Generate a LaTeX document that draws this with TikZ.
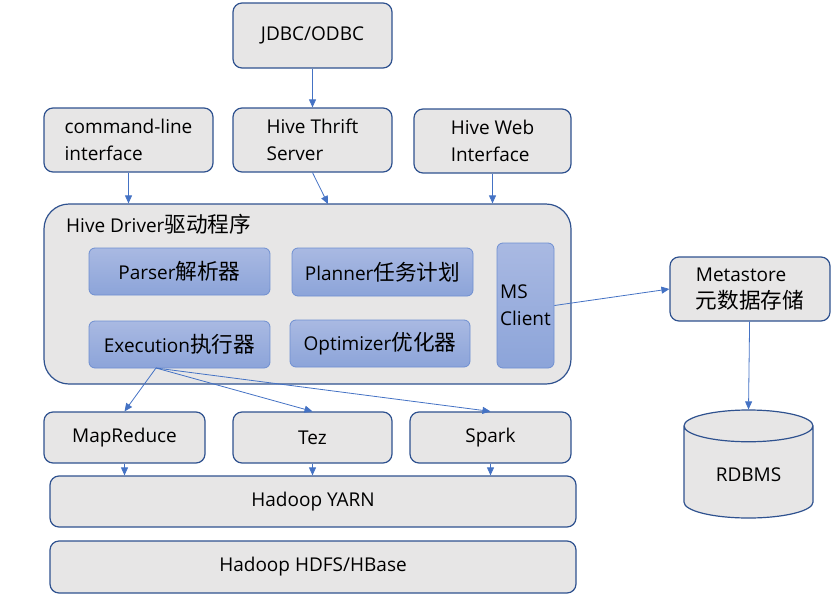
\documentclass[tikz,border=0pt]{standalone}
\usepackage{fontspec}
\usepackage{tikz}
\setmainfont{Open Sans}
\newfontfamily\cjk[Scale=1.14]{Noto Sans CJK SC}
\usetikzlibrary{arrows.meta}
\usetikzlibrary{shapes.geometric}
\definecolor{boxline}{HTML}{2F528F}
\definecolor{boxfill}{HTML}{E7E6E6}
\definecolor{innertop}{HTML}{A9B9E2}
\definecolor{innerbot}{HTML}{8CA4D9}
\definecolor{innerline}{HTML}{6F8FD1}
\definecolor{arrowblue}{HTML}{4472C4}
\tikzset{box/.style = {draw = boxline, fill = boxfill, line width = 1.2, rounded corners = 9, inner sep = 2, align = left, font = \fontsize{19}{27}\selectfont},
  inbox/.style = {draw = innerline, top color = innertop, bottom color = innerbot, line width = 0.8, rounded corners = 6, inner sep = 2, align = left, font = \fontsize{19}{27}\selectfont},
  arr/.style = {draw = arrowblue, line width = 0.8, -{Triangle[length = 8, width = 7]}}}

\begin{document}
\begin{tikzpicture}[x = 1pt, y = -1pt]
      \useasboundingbox (0, 0) rectangle (837, 597);

      \node [box, minimum width = 159, minimum height = 65] (jdbc) at (312.5, 35.5) {JDBC/ODBC};
      \node [box, minimum width = 169, minimum height = 64] (cli) at (128.5, 140) {command-line\\interface};
      \node [box, minimum width = 159, minimum height = 64] (thrift) at (312.5, 140) {Hive Thrift\\Server};
      \node [box, minimum width = 157, minimum height = 64] (web) at (492.5, 141) {Hive Web\\Interface};

      \node [box, rounded corners = 25, minimum width = 527, minimum height = 180] (drv) at (307.5, 294) {};
      \node [anchor = west, inner sep = 0, font = \fontsize{19}{27}\selectfont] (drvtitle) at (66, 224) {Hive Driver\cjk{驱动程序}};
      \node [inbox, minimum width = 181, minimum height = 47] (parser) at (179.5, 271.5) {Parser\cjk{解析器}};
      \node [inbox, minimum width = 181, minimum height = 48] (planner) at (382.5, 272) {Planner\cjk{任务计划}};
      \node [inbox, minimum width = 181, minimum height = 47] (exec) at (179.5, 344.5) {Execution\cjk{执行器}};
      \node [inbox, minimum width = 180, minimum height = 47] (opt) at (380, 343.5) {Optimizer\cjk{优化器}};
      \node [inbox, minimum width = 57, minimum height = 125] (ms) at (525.5, 305.5) {MS\\Client};

      \node [box, minimum width = 160, minimum height = 64] (meta) at (750, 289) {Metastore\\\cjk{元数据存储}};
      \node [cylinder, shape border rotate = 90, aspect = 0.44, anchor = shape center, draw = boxline, fill = boxfill, line width = 1.2, minimum width = 129, minimum height = 108, font = \fontsize{19}{27}\selectfont] (rdbms) at (748.5, 464) {RDBMS};

      \node [box, minimum width = 161, minimum height = 51] (mr) at (124.5, 437.5) {MapReduce};
      \node [box, minimum width = 159, minimum height = 51] (tez) at (312.5, 437.5) {Tez};
      \node [box, minimum width = 161, minimum height = 51] (spark) at (490.5, 437.5) {Spark};
      \node [box, minimum width = 526, minimum height = 51] (yarn) at (313, 501.5) {Hadoop YARN};
      \node [box, minimum width = 526, minimum height = 52] (hdfs) at (313, 567) {Hadoop HDFS/HBase};

      \coordinate (thriftin) at (328, 204);
      \coordinate (fork) at (156, 368);

      \draw [arr] (jdbc) -- (thrift);
      \draw [arr] (cli) -- (cli |- drv.north);
      \draw [arr] (thrift.south) -- (thriftin);
      \draw [arr] (web) -- (web |- drv.north);
      \draw [arr] (ms.east) -- (meta.west);
      \draw [arr] (meta) -- (rdbms.north);

      \draw [arr] (fork) -- (mr.north);
      \draw [arr] (fork) -- (tez.north);
      \draw [arr] (fork) -- (spark.north);

      \draw [arr] (mr) -- (mr |- yarn.north);
      \draw [arr] (tez) -- (tez |- yarn.north);
      \draw [arr] (spark) -- (spark |- yarn.north);
    \end{tikzpicture}
\end{document}
